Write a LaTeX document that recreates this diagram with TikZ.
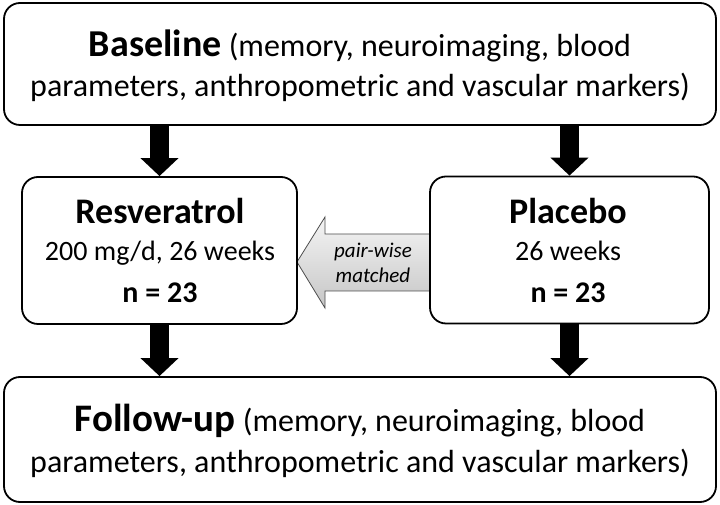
\documentclass[tikz,border=0pt]{standalone}
\usepackage{fontspec}
\setmainfont{Carlito}
\usetikzlibrary{arrows.meta,calc}
\begin{document}
\begin{tikzpicture}[x=1pt,y=1pt,
  box/.style={draw=black,line width=1.8pt,rounded corners=16pt,fill=white,inner sep=0pt},
  txt/.style={anchor=base,inner sep=0pt},
  blockarrow/.style={line width=19pt,draw=black,-{Triangle[width=37pt,length=18pt]}},
]
\useasboundingbox (0,0) rectangle (720,505);
% matching arrow (drawn first, partly hidden under Placebo box)
\coordinate (tipm) at (297,243);
\path[draw=black!70,line width=0.8pt,top color=gray!8,bottom color=gray!45]
  (tipm) -- ++(28,45) -- ++(0,-17) -- ++(115,0) -- ++(0,-57) -- ++(-115,0) -- ++(0,-17) -- cycle;
% boxes
\node[box,minimum width=712,minimum height=122] (base) at (360,441) {};
\node[box,minimum width=275,minimum height=147] (res) at (159.5,254.5) {};
\node[box,minimum width=279,minimum height=147] (plc) at (569.5,255) {};
\node[box,minimum width=712,minimum height=125] (fup) at (360,65.5) {};
% texts
\node[txt,font=\fontsize{32}{38}\selectfont] (t1) at (360,448) {\fontsize{38}{40}\selectfont\textbf{Baseline}\fontsize{32}{38}\selectfont{} (memory, neuroimaging, blood};
\node[txt,font=\fontsize{32}{38}\selectfont] (t2) at (360,408) {parameters, anthropometric and vascular markers)};
\node[txt,font=\fontsize{36}{40}\selectfont\bfseries] (r1) at (160,281) {Resveratrol};
\node[txt,font=\fontsize{28}{32}\selectfont] (r2) at (160,244) {200 mg/d, 26 weeks};
\node[txt,font=\fontsize{30}{34}\selectfont\bfseries] (r3) at (160,202) {n = 23};
\node[txt,font=\fontsize{36}{40}\selectfont\bfseries] (p1) at (568,281) {Placebo};
\node[txt,font=\fontsize{28}{32}\selectfont] (p2) at (568,244) {26 weeks};
\node[txt,font=\fontsize{30}{34}\selectfont\bfseries] (p3) at (568,202) {n = 23};
\node[txt,font=\fontsize{32}{38}\selectfont] (f1) at (360,73) {\fontsize{39}{40}\selectfont\textbf{Follow-up}\fontsize{32}{38}\selectfont{} (memory, neuroimaging, blood};
\node[txt,font=\fontsize{32}{38}\selectfont] (f2) at (360,32) {parameters, anthropometric and vascular markers)};
\node[txt,font=\fontsize{21}{25}\selectfont\itshape] (m1) at (373,247) {pair-wise};
\node[txt,font=\fontsize{21}{25}\selectfont\itshape] (m2) at (373,222) {matched};
% block arrows
\draw[blockarrow] (base.south -| res.north) -- (res.north);
\draw[blockarrow] (base.south -| plc.north) -- (plc.north);
\draw[blockarrow] (res.south) -- (res.south |- fup.north);
\draw[blockarrow] (plc.south) -- (plc.south |- fup.north);
\end{tikzpicture}
\end{document}
